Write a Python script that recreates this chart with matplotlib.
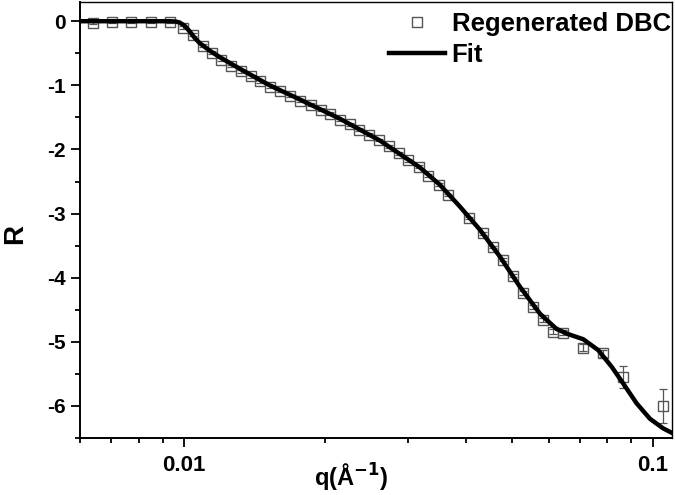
import matplotlib
matplotlib.use("Agg")
import matplotlib.pyplot as plt
import numpy as np

plt.rcParams["font.family"] = ["Liberation Sans", "DejaVu Sans"]
plt.rcParams["font.weight"] = "bold"
plt.rcParams["axes.unicode_minus"] = False

# measured reflectivity (log scale), regenerated DBC
q_data = [0.00639, 0.00702, 0.00772, 0.00849, 0.00933,
          0.00995, 0.01045, 0.01098, 0.01148, 0.01202, 0.01262, 0.01326,
          0.01388, 0.01451, 0.01524, 0.01601, 0.01682, 0.01766, 0.01871,
          0.01965, 0.02047, 0.02150, 0.02259, 0.02364, 0.02483, 0.02608,
          0.02740, 0.02877, 0.03008, 0.03175, 0.03319, 0.03503, 0.03661,
          0.04059, 0.04336, 0.04554, 0.04798, 0.05040, 0.05293, 0.05560,
          0.05840, 0.06135, 0.06444, 0.07088, 0.07823, 0.08654, 0.1053]
r_data = [-0.03, -0.01, -0.01, -0.01, -0.01,
          -0.10, -0.21, -0.38, -0.49, -0.60, -0.70, -0.78,
          -0.86, -0.94, -1.02, -1.09, -1.16, -1.24, -1.30,
          -1.38, -1.44, -1.54, -1.61, -1.69, -1.77, -1.85,
          -1.95, -2.06, -2.17, -2.27, -2.41, -2.55, -2.71,
          -3.07, -3.31, -3.52, -3.72, -3.97, -4.24, -4.46,
          -4.66, -4.84, -4.86, -5.09, -5.18, -5.55, -6.00]
r_err = [0.02] * 33 + [0.02, 0.02, 0.02, 0.02, 0.02, 0.03, 0.03,
                       0.03, 0.04, 0.04, 0.05, 0.05, 0.17, 0.27]

# fit curve
q_fit = [0.0060, 0.00932, 0.00960, 0.00979, 0.01003, 0.01029, 0.01054,
         0.01080, 0.01135, 0.01192, 0.01315, 0.01524, 0.01766, 0.02150,
         0.02617, 0.03186, 0.03515, 0.03878, 0.04278, 0.04721, 0.05208,
         0.05746, 0.06237, 0.06603, 0.07111, 0.07654, 0.08178, 0.08654,
         0.09244, 0.09867, 0.1053, 0.1099]
r_fit = [0.0, 0.0, -0.005, -0.02, -0.07, -0.16, -0.26,
         -0.34, -0.46, -0.56, -0.74, -1.00, -1.22, -1.52,
         -1.86, -2.28, -2.55, -2.89, -3.25, -3.67, -4.14,
         -4.56, -4.80, -4.88, -4.96, -5.13, -5.39, -5.65,
         -5.96, -6.20, -6.35, -6.42]

fig = plt.figure(figsize=(6.75, 4.95), dpi=100)
ax = fig.add_axes([0.1185, 0.1152, 0.8771, 0.8808])

ax.errorbar(q_data, r_data, yerr=r_err, fmt="none", ecolor="#555555",
            elinewidth=0.9, capsize=3, capthick=0.9, zorder=2)
ax.plot(q_data, r_data, linestyle="none", marker="s", markersize=7.3,
        markerfacecolor="none", markeredgecolor="#555555", markeredgewidth=1.0,
        label="Regenerated DBC", zorder=3)
ax.plot(q_fit, r_fit, color="black", linewidth=3.2, label="Fit", zorder=4)

ax.set_xscale("log")
ax.set_xlim(0.006, 0.11)
ax.set_ylim(-6.5, 0.3)

ax.set_xticks([0.01, 0.1])
ax.set_xticklabels(["0.01", "0.1"])
ax.set_xticks([0.006, 0.007, 0.008, 0.009, 0.02, 0.03, 0.04, 0.05, 0.06,
               0.07, 0.08, 0.09], minor=True)
ax.xaxis.set_minor_formatter(matplotlib.ticker.NullFormatter())
ax.set_yticks(np.arange(-6, 0.5, 1))
ax.set_yticklabels(["-6", "-5", "-4", "-3", "-2", "-1", "0"])
ax.set_yticks(np.arange(-6.5, 0.3, 0.5), minor=True)

ax.tick_params(which="major", direction="out", length=6.5, width=1.3, pad=4)
ax.tick_params(which="minor", direction="out", length=3.5, width=1.3)
ax.tick_params(axis="x", which="major", labelsize=16, pad=6)
ax.tick_params(axis="y", which="major", labelsize=15)
ax.tick_params(top=False, right=False, which="both")
for side in ["left", "bottom"]:
    ax.spines[side].set_linewidth(1.4)
for side in ["top", "right"]:
    ax.spines[side].set_linewidth(1.0)

ax.set_xlabel("q(Å$^{\\mathbf{-1}}$)", fontsize=17, fontweight="bold")
ax.xaxis.set_label_coords(0.458, -0.055)
ax.set_ylabel("R", fontsize=20, fontweight="bold")
ax.yaxis.set_label_coords(-0.088, 0.468)

ax.legend(loc="upper right", bbox_to_anchor=(0.998, 0.978), frameon=False,
          fontsize=18.5, handlelength=2.2, handletextpad=0.25,
          borderaxespad=0, borderpad=0, labelspacing=0.3)

fig.savefig("out.png", dpi=100)
